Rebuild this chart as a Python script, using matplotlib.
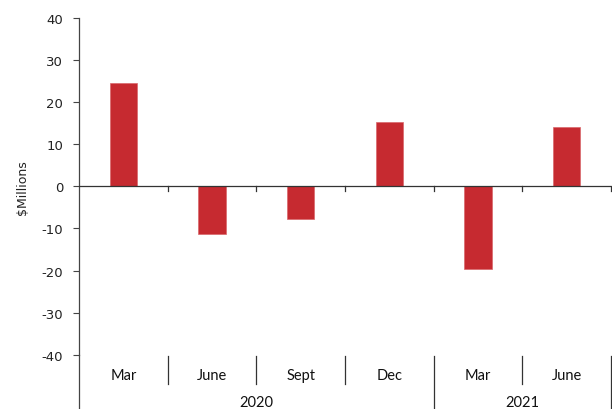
import matplotlib
matplotlib.use("Agg")
import matplotlib.pyplot as plt

months = ["Mar", "June", "Sept", "Dec", "Mar", "June"]
years = ["2020", "2021"]
year_spans = [4, 2]
values = [24.5, -11.2, -7.8, 15.2, -19.5, 14.0]
yticks = [-40, -30, -20, -10, 0, 10, 20, 30, 40]

fig = plt.figure(figsize=(6.12, 4.10), dpi=100)
ax = fig.add_axes([79/612, 1-356/410, (611-79)/612, (356-18.5)/410])

n = len(months)
x = list(range(n))
ax.bar(x, values, width=0.31, color="#C62A30", edgecolor="#D9676B", linewidth=0.5, zorder=3)
ax.set_xlim(-0.5, n-0.5)
ax.set_ylim(-40, 40)
ax.set_yticks(yticks)
ax.set_yticklabels([str(v) for v in yticks], fontsize=9.5, family="DejaVu Sans", color="#222222")
ax.tick_params(axis="y", direction="out", length=4.5, width=0.8, color="#444444", pad=7)
ax.set_xticks([])
for s in ["top", "right", "bottom"]:
    ax.spines[s].set_visible(False)
ax.spines["left"].set_color("#444444")
ax.spines["left"].set_linewidth(0.9)
ax.set_ylabel("$Millions", fontsize=9, family="DejaVu Sans", color="#222222", labelpad=9)

# zero line with small ticks
ax.axhline(0, color="#333333", linewidth=0.9, zorder=4)
trans = ax.get_xaxis_transform()
for i in range(1, n+1):
    ax.plot([i-0.5, i-0.5], [0, -1.1], color="#333333", linewidth=0.9, clip_on=False, zorder=4)

# extend left spine down
def ypix(p):
    return (1-p/410 - (1-356/410)) / ((356-18.5)/410)
ax.plot([-0.5, -0.5], [0, ypix(410)], transform=trans, color="#444444", linewidth=0.9, clip_on=False)

# month separators and labels
for i in range(n):
    ax.text(i, ypix(376), months[i], transform=trans, ha="center", va="center",
            fontsize=10.5, family="Lato", color="#111111")
ax.plot([n-0.5, n-0.5], [ypix(357), ypix(410)], transform=trans, color="#333333", linewidth=0.9, clip_on=False)
bounds = []
acc = 0
for sp in year_spans:
    acc += sp
    bounds.append(acc)
for i in range(1, n):
    if i in bounds:
        ax.plot([i-0.5, i-0.5], [ypix(357), ypix(410)], transform=trans, color="#333333", linewidth=0.9, clip_on=False)
    else:
        ax.plot([i-0.5, i-0.5], [ypix(357), ypix(385)], transform=trans, color="#333333", linewidth=0.9, clip_on=False)
start = 0
for yr, sp in zip(years, year_spans):
    ax.text(start + sp/2 - 0.5, ypix(403), yr, transform=trans, ha="center", va="center",
            fontsize=10.5, family="Lato", color="#111111")
    start += sp

fig.savefig("out.png", dpi=100)
